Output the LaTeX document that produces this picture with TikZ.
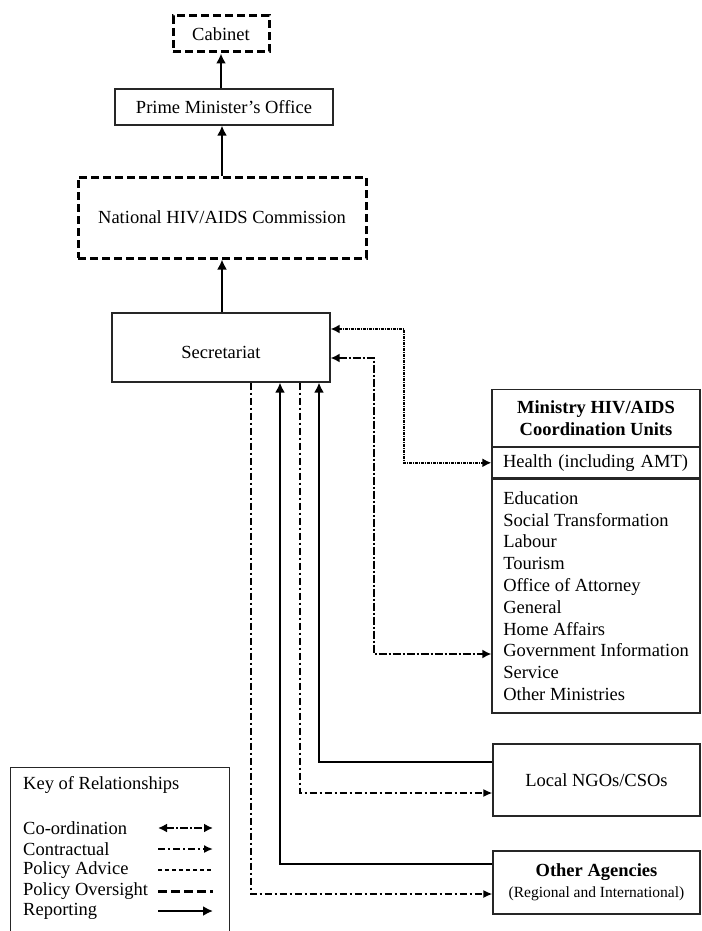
\documentclass[tikz,border=0pt]{standalone}
\usepackage{fontspec}
\setmainfont{Liberation Serif}
\usetikzlibrary{calc, positioning, arrows.meta}
\tikzstyle{box}=[rectangle, draw=black!85, line width=1.2pt, inner sep=0pt, align=center, font=\fontsize{18.5}{21.8}\selectfont]
\tikzstyle{dbox}=[box, draw=black, line width=3pt, dash pattern=on 8pt off 4pt]
\tikzstyle{mbox}=[box, minimum width=208pt, anchor=north]
\tikzstyle{lab}=[anchor=west, inner sep=0pt, font=\fontsize{18.5}{21.8}\selectfont]
\tikzstyle{report}=[line width=2.8pt, -{Latex[length=10pt,width=10pt]}]
\tikzstyle{contract}=[line width=1.6pt, dash pattern=on 7pt off 3pt on 2pt off 3pt, -{Latex[length=9pt,width=8pt]}]
\tikzstyle{coordin}=[line width=2.6pt, dash pattern=on 8pt off 2pt on 2pt off 2pt, {Latex[length=9pt,width=9pt]}-{Latex[length=9pt,width=9pt]}]
\tikzstyle{advice}=[line width=2pt, dash pattern=on 4pt off 3pt]
\tikzstyle{oversight}=[line width=3pt, dash pattern=on 9pt off 4pt]

\begin{document}
\begin{tikzpicture}[x=1pt, y=-1pt]
\useasboundingbox (0,0) rectangle (701,931);
% top of the chain
\node [dbox, minimum width=96pt, minimum height=36pt] (cab) at (221,34) {Cabinet};
\node [box, minimum width=218pt, minimum height=36pt] (pmo) at (224,107) {Prime Minister's Office};
\node [dbox, minimum width=288pt, minimum height=81pt] (nac) at (222,217.5) {National HIV/AIDS Commission};
\node [box, minimum width=218pt, minimum height=69pt, text height=21pt, text depth=0pt] (sec) at (221,347.5) {Secretariat};
\draw [report] (pmo.north -| cab.south) -- (cab.south);
\draw [report] (nac.north) -- (nac.north |- pmo.south);
\draw [report] (sec.north -| nac.south) -- (nac.south);

% ministry units
\node [mbox, minimum height=57pt] (mhead) at (596,389) {\textbf{Ministry HIV/AIDS}\\\textbf{Coordination Units}};
\node [mbox, minimum height=30pt, text width=186pt, inner xsep=11pt, align=left] (mhealth) at (mhead.south) {Health (including AMT)};
\node [mbox, minimum height=234pt, inner xsep=11pt, align=left] (mlist) at (mhealth.south) {Education\\Social Transformation\\Labour\\Tourism\\Office of Attorney\\General\\Home Affairs\\Government Information\\Service\\Other Ministries};
\node [box, minimum width=207pt, minimum height=72pt] (ngo) at (596.5,780) {Local NGOs/CSOs};
\node [box, minimum width=207pt, minimum height=63pt] (oth) at (596.5,882.5) {\textbf{Other Agencies}\\[-1pt]{\fontsize{15.5}{18}\selectfont(Regional and International)}};

% links to the secretariat
\coordinate (k1) at (404,329);
\coordinate (k2) at (374,358);
\coordinate (mgov) at ($(mlist.west)+(0,58)$);
\draw [coordin, dash pattern=on 3pt off 1pt on 1pt off 1pt] (sec.east |- k1) -- (k1) |- (mhealth.west);
\draw [coordin] (sec.east |- k2) -- (k2) |- (mgov);
\coordinate (v1) at (251,894);
\coordinate (v2) at (280,864);
\coordinate (v3) at (300,793);
\coordinate (v4) at (319,762);
\draw [contract] (sec.south -| v1) -- (v1) -- (oth.west |- v1);
\draw [report] (oth.west |- v2) -- (v2) -- (sec.south -| v2);
\draw [contract] (sec.south -| v3) -- (v3) -- (ngo.west |- v3);
\draw [report] (ngo.west |- v4) -- (v4) -- (sec.south -| v4);

% key
\node [box, minimum width=219pt, minimum height=180pt, anchor=north west] (key) at (10,767) {};
\node [lab] (kt) at (23,785) {Key of Relationships};
\node [lab] (k-co) at (23,828) {Co-ordination};
\node [lab] (k-ct) at (23,849) {Contractual};
\node [lab] (k-pa) at (23,870) {Policy Advice};
\node [lab] (k-po) at (23,891) {Policy Oversight};
\node [lab] (k-re) at (23,911) {Reporting};
\foreach \s/\y in {coordin/828, contract/849, advice/870, oversight/891, report/911}
  \draw [\s] (158,\y) -- (213,\y);
\end{tikzpicture}
\end{document}
